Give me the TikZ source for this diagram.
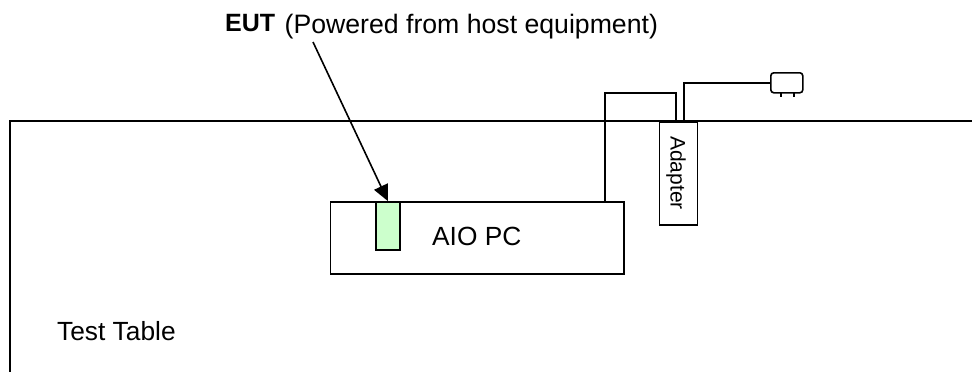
\documentclass[tikz,border=0pt]{standalone}
\usepackage{fontspec}
\setmainfont{Liberation Sans}
\usetikzlibrary{arrows.meta}
\tikzset{
  wire/.style={draw=black,line width=1.6pt},
  boxn/.style={draw=black,line width=1.6pt,inner sep=0pt,anchor=north west},
  lab/.style={inner sep=0pt,anchor=base west,font=\fontsize{26.3}{30}\selectfont}
}
\begin{document}
\begin{tikzpicture}[x=1pt,y=-1pt]
\useasboundingbox (0,0) rectangle (972,372);
\coordinate (tl) at (10,372);
\coordinate (tc) at (10,121);
\coordinate (tr) at (972,121);
\draw[wire] (tl) -- (tc) -- (tr);
\node[boxn,minimum width=293.5pt,minimum height=72pt] (pc) at (329.5,201) {};
\node[boxn,fill={rgb,255:red,204;green,255;blue,204},minimum width=24pt,minimum height=48pt] (eut) at (375,201) {};
\node[boxn,fill=white,minimum width=38pt,minimum height=103pt] (ad) at (658.7,121) {};
\node[rotate=-90,inner sep=0pt,font=\fontsize{21}{24}\selectfont] (adl) at (676,173) {Adapter};
\node[lab] (pct) at (432,245) {AIO PC};
\node[lab] (tt) at (57,340) {Test Table};
\node[inner sep=0pt,anchor=base west,font=\fontsize{25}{30}\selectfont\bfseries] (title) at (225,31) {EUT};
\node[inner sep=0pt,anchor=base west,font=\fontsize{26.65}{30}\selectfont] (sub) at (284.5,33) {(Powered from host equipment)};
\coordinate (c1) at (605,93);
\coordinate (c2) at (675.7,93);
\coordinate (c1s) at (605,201);
\coordinate (c2e) at (675.7,121);
\draw[wire] (c1s) -- (c1) -- (c2) -- (c2e);
\coordinate (d0) at (684,121);
\coordinate (d1) at (684,83);
\node[boxn,rounded corners=3pt,minimum width=32pt,minimum height=20pt] (plug) at (770,72) {};
\draw[wire] (d0) -- (d1) -- (plug.west |- d1);
\coordinate (p1) at (781,92);\coordinate (p1e) at (781,97);
\coordinate (p2) at (794,92);\coordinate (p2e) at (794,97);
\draw[wire] (p1) -- (p1e);
\draw[wire] (p2) -- (p2e);
\coordinate (as) at (313,42);
\draw[wire,-{Triangle[length=16pt,width=15pt]}] (as) -- (eut.north);
\end{tikzpicture}
\end{document}
